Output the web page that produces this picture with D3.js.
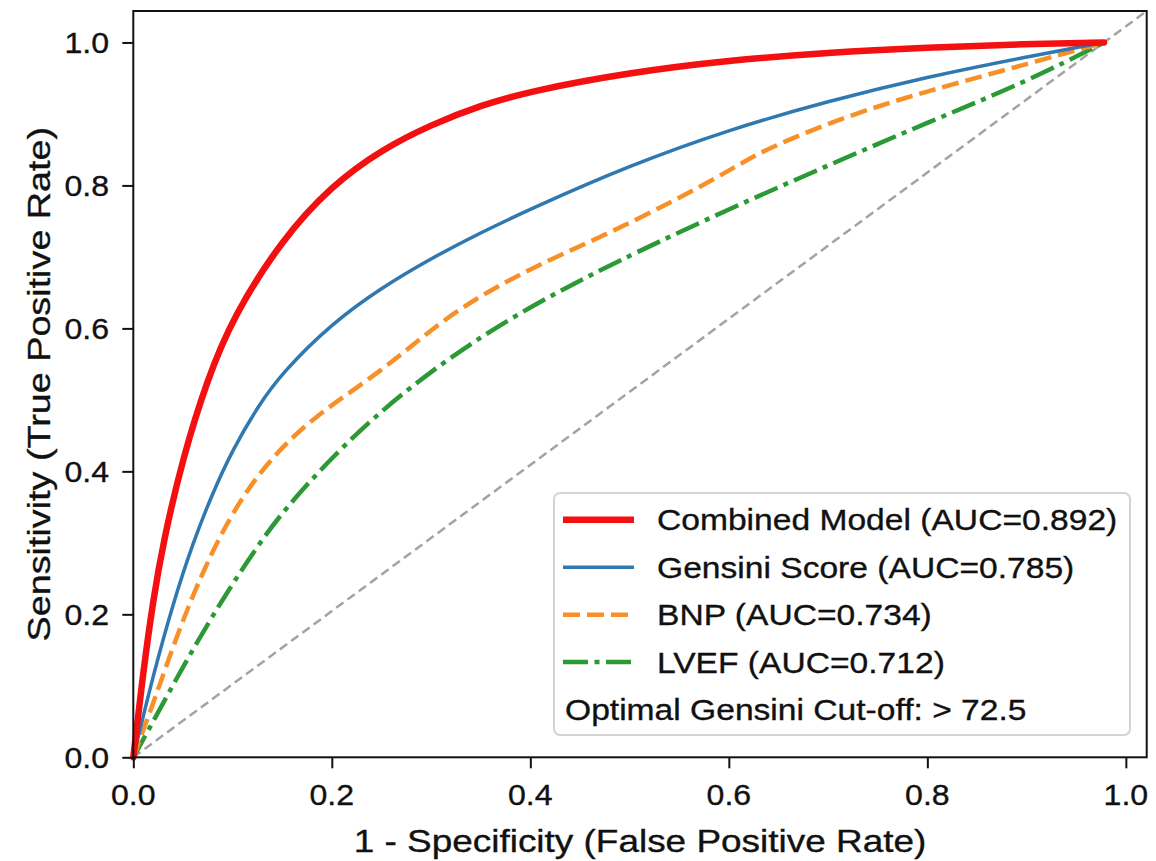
<!DOCTYPE html>
<html lang="en">
<head>
<meta charset="UTF-8">
<title>ROC curves</title>
<script src="https://d3js.org/d3.v7.min.js"></script>
<style>
  html, body { margin:0; background:#fff; }
  svg { display:block; }
  text { font-family: "Liberation Sans", Arial, Helvetica, sans-serif; fill:#111; stroke:#111; stroke-width:0.35px; }
</style>
</head>
<body>
<svg width="1156" height="861"></svg>
<script>
// tick values
var xTicks = [0, 0.2, 0.4, 0.6, 0.8, 1.0];
var yTicks = [0, 0.2, 0.4, 0.6, 0.8, 1.0];

// ROC points (fpr / tpr)
var combinedFpr = [0, 0.01, 0.02, 0.03, 0.05, 0.075, 0.10, 0.15, 0.20, 0.25, 0.30, 0.35, 0.40, 0.50, 0.60, 0.70, 0.80, 0.90, 0.978];
var combinedTpr = [0, 0.12, 0.22, 0.30, 0.42, 0.53, 0.615, 0.725, 0.80, 0.85, 0.885, 0.912, 0.932, 0.958, 0.975, 0.986, 0.993, 0.998, 1.0];

var gensiniFpr = [0, 0.02, 0.04, 0.06, 0.08, 0.10, 0.125, 0.15, 0.20, 0.25, 0.30, 0.35, 0.40, 0.50, 0.60, 0.70, 0.80, 0.90, 0.978];
var gensiniTpr = [0, 0.115, 0.215, 0.30, 0.37, 0.43, 0.49, 0.538, 0.607, 0.657, 0.698, 0.734, 0.767, 0.828, 0.878, 0.918, 0.952, 0.980, 1.0];

var bnpFpr = [0, 0.02, 0.045, 0.07, 0.095, 0.12, 0.15, 0.185, 0.22, 0.26, 0.30, 0.34, 0.40, 0.47, 0.54, 0.60, 0.635, 0.72, 0.80, 0.88, 0.978];
var bnpTpr = [0, 0.075, 0.175, 0.26, 0.33, 0.385, 0.435, 0.478, 0.512, 0.552, 0.598, 0.638, 0.684, 0.727, 0.775, 0.82, 0.85, 0.898, 0.932, 0.962, 1.0];

var lvefFpr = [0, 0.02, 0.05, 0.09, 0.125, 0.15, 0.20, 0.25, 0.30, 0.35, 0.40, 0.45, 0.50, 0.60, 0.70, 0.80, 0.90, 0.978];
var lvefTpr = [0, 0.05, 0.127, 0.222, 0.295, 0.343, 0.42, 0.485, 0.54, 0.588, 0.63, 0.667, 0.702, 0.767, 0.828, 0.888, 0.945, 1.0];

var diagFpr = [0, 1.021];
var diagTpr = [0, 1.044];

var seriesNames = ["Combined Model (AUC=0.892)", "Gensini Score (AUC=0.785)", "BNP (AUC=0.734)", "LVEF (AUC=0.712)"];
var cutoffNote = "Optimal Gensini Cut-off: > 72.5";
var xTitle = "1 - Specificity (False Positive Rate)";
var yTitle = "Sensitivity (True Positive Rate)";

var svg = d3.select("svg");
var pLeft = 133.3, pRight = 1146.7, pTop = 11, pBottom = 757.3;

var x = d3.scaleLinear().domain([0, 1.021]).range([pLeft, pRight]);
var y = d3.scaleLinear().domain([0, 1.044]).range([pBottom, pTop]);

function zip(a, b) { return a.map(function(v, i) { return [v, b[i]]; }); }

var series = [
    {pts: zip(combinedFpr, combinedTpr), color: "#f41010", width: 6.5, dash: null},
    {pts: zip(gensiniFpr, gensiniTpr), color: "#2f78b0", width: 3.5, dash: null},
    {pts: zip(bnpFpr, bnpTpr), color: "#f8902a", width: 4.5, dash: "17 7"},
    {pts: zip(lvefFpr, lvefTpr), color: "#2b9a36", width: 4.5, dash: "25 6.5 5 6.5"}
];

// stretched text, the picture's lettering is a bit wide
function label(g, txt, tx, ty, size, sx, anchor, rot) {
    return g.append("text")
        .attr("transform", "translate(" + tx + "," + ty + ")" + (rot ? " rotate(" + rot + ")" : "") + " scale(" + sx + ",1)")
        .attr("text-anchor", anchor)
        .style("font-size", size + "px")
        .text(txt);
}

var plot = svg.append("g");

// chance line
plot.append("path")
    .attr("d", d3.line().x(function(d) { return x(d[0]); }).y(function(d) { return y(d[1]); })(zip(diagFpr, diagTpr)))
    .attr("fill", "none")
    .attr("stroke", "#a3a3a3")
    .attr("stroke-width", 2.5)
    .attr("stroke-dasharray", "9 5");

var line = d3.line()
    .x(function(d) { return x(d[0]); })
    .y(function(d) { return y(d[1]); })
    .curve(d3.curveBasis);

// draw back to front so red sits on top
series.slice().reverse().forEach(function(s) {
    plot.append("path")
        .attr("d", line(s.pts))
        .attr("fill", "none")
        .attr("stroke", s.color)
        .attr("stroke-width", s.width)
        .attr("stroke-dasharray", s.dash)
        .attr("stroke-linecap", s.dash ? "butt" : "round");
});

// frame
svg.append("rect")
    .attr("x", pLeft).attr("y", pTop)
    .attr("width", pRight - pLeft).attr("height", pBottom - pTop)
    .attr("fill", "none").attr("stroke", "#111").attr("stroke-width", 2);

// ticks
var axX = svg.append("g").attr("transform", "translate(0," + pBottom + ")")
    .call(d3.axisBottom(x).tickValues(xTicks).tickSize(11).tickFormat(""));
var axY = svg.append("g").attr("transform", "translate(" + pLeft + ",0)")
    .call(d3.axisLeft(y).tickValues(yTicks).tickSize(11).tickFormat(""));
[axX, axY].forEach(function(a) {
    a.select(".domain").remove();
    a.selectAll("line").attr("stroke", "#111").attr("stroke-width", 2);
});

var fmt = d3.format(".1f");
xTicks.forEach(function(t) { label(svg, fmt(t), x(t), 805, 30, 1.07, "middle"); });
yTicks.forEach(function(t) { label(svg, fmt(t), 109, y(t) + 10.7, 30, 1.07, "end"); });

label(svg, xTitle, (pLeft + pRight) / 2, 852, 32, 1.155, "middle");
label(svg, yTitle, 50, (pTop + pBottom) / 2, 32, 1.18, "middle", -90);

// legend
var lg = svg.append("g");
lg.append("rect")
    .attr("x", 554).attr("y", 493).attr("width", 576).attr("height", 242)
    .attr("rx", 6)
    .attr("fill", "#fff").attr("fill-opacity", 0.85)
    .attr("stroke", "#d4d4d4").attr("stroke-width", 2);

var rowY = [519.7, 567.3, 614.7, 662];
series.forEach(function(s, i) {
    lg.append("line")
        .attr("x1", 563).attr("x2", 634)
        .attr("y1", rowY[i]).attr("y2", rowY[i])
        .attr("stroke", s.color)
        .attr("stroke-width", s.width)
        .attr("stroke-dasharray", s.dash);
    label(lg, seriesNames[i], 657, rowY[i] + 10.7, 30, 1.12, "start");
});
label(lg, cutoffNote, 565, 709.7 + 10.7, 30, 1.12, "start");
</script>
</body>
</html>
